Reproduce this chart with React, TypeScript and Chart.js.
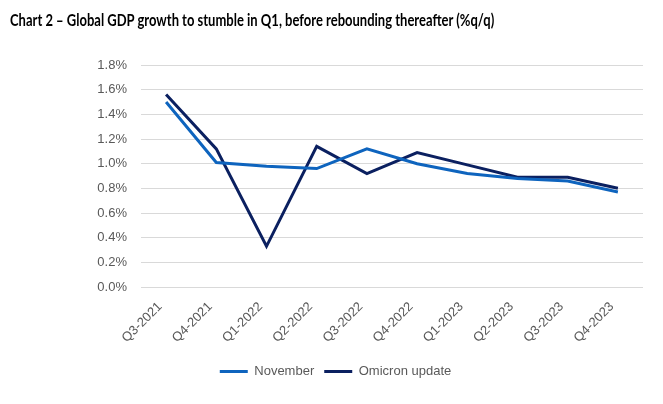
import React, { useEffect, useRef } from "react";
import { Chart, registerables } from "chart.js";

Chart.register(...registerables);

const categories = ["Q3-2021", "Q4-2021", "Q1-2022", "Q2-2022", "Q3-2022", "Q4-2022", "Q1-2023", "Q2-2023", "Q3-2023", "Q4-2023"];
const november = [1.50, 1.01, 0.98, 0.96, 1.12, 1.00, 0.92, 0.88, 0.86, 0.77];
const omicron = [1.56, 1.12, 0.33, 1.14, 0.92, 1.09, 0.99, 0.89, 0.89, 0.80];
const titleText = "Chart 2 – Global GDP growth to stumble in Q1, before rebounding thereafter (%q/q)";

export default function App() {
  const ref = useRef<HTMLCanvasElement | null>(null);
  useEffect(() => {
    if (!ref.current) return;
    const chart = new Chart(ref.current, {
      type: "line",
      data: {
        labels: categories,
        datasets: [
          { label: "November", data: november, borderColor: "#0E64BE", backgroundColor: "#0E64BE", borderWidth: 3, pointRadius: 0, tension: 0 },
          { label: "Omicron update", data: omicron, borderColor: "#0B2060", backgroundColor: "#0B2060", borderWidth: 3, pointRadius: 0, tension: 0 },
        ],
      },
      options: {
        animation: false,
        responsive: false,
        devicePixelRatio: 1,
        layout: { padding: { top: 65, left: 28, right: 20, bottom: 16 } },
        plugins: {
          tooltip: { enabled: false },
          legend: {
            position: "bottom",
            labels: {
              boxWidth: 28,
              boxHeight: 3,
              color: "#595959",
              font: { family: "Liberation Sans, Arial", size: 13 },
              padding: 10,
              generateLabels: (c: any) =>
                c.data.datasets.map((d: any, i: number) => ({
                  text: d.label,
                  fillStyle: d.borderColor,
                  strokeStyle: d.borderColor,
                  lineWidth: 0,
                  hidden: false,
                  datasetIndex: i,
                  fontColor: "#595959",
                })),
            },
          },
        },
        scales: {
          x: {
            offset: true,
            grid: { display: false },
            border: { display: false },
            ticks: {
              color: "#595959",
              font: { family: "Liberation Sans, Arial", size: 13 },
              maxRotation: 45,
              minRotation: 45,
              padding: 4,
              labelOffset: -6,
              autoSkip: false,
            },
            afterFit: (s: any) => { s.height = 68; },
          },
          y: {
            min: 0,
            max: 1.8,
            border: { display: false },
            grid: { color: "#D9D9D9", lineWidth: 1, drawTicks: false },
            ticks: {
              stepSize: 0.2,
              padding: 14,
              color: "#595959",
              font: { family: "Liberation Sans, Arial", size: 13 },
              callback: (v: any) => Number(v).toFixed(1) + "%",
            },
            afterFit: (s: any) => { s.width = 113; },
          },
        },
      },
    });
    return () => chart.destroy();
  }, []);
  return (
    <div style={{ position: "absolute", left: 0, top: 0, width: 663, height: 404, background: "#fff" }}>
      <canvas ref={ref} width={663} height={404} style={{ position: "absolute", left: 0, top: 0 }} />
      <div style={{ position: "absolute", left: 10, top: 9, fontFamily: "Lato, 'Open Sans', sans-serif", fontWeight: 700, fontSize: 17, color: "#000", whiteSpace: "nowrap", transform: "scaleX(0.765)", transformOrigin: "left top" }}>
        {titleText}
      </div>
    </div>
  );
}
